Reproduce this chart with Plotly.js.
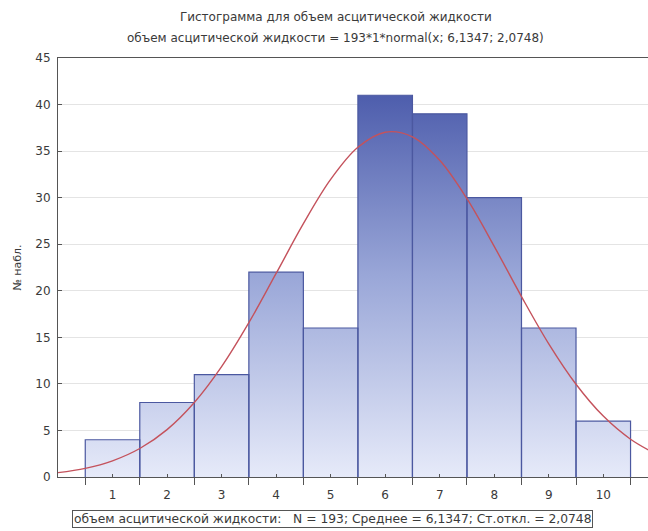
<!DOCTYPE html>
<html>
<head>
<meta charset="utf-8">
<script src="https://cdn.plot.ly/plotly-3.0.1.min.js"></script>
<style>html,body{margin:0;padding:0;background:#fff;}#chart{width:648px;height:531px;}</style>
</head>
<body>
<div id="chart"></div>
<script>
// Histogram data (bin centers and counts)
const binCenters = [1, 2, 3, 4, 5, 6, 7, 8, 9, 10];
const counts = [4, 8, 11, 22, 16, 41, 39, 30, 16, 6];
const xTickLabels = ['1', '2', '3', '4', '5', '6', '7', '8', '9', '10'];
// Fitted normal curve
const curveX = [0, 0.5, 1, 1.5, 2, 2.5, 3, 3.5, 4, 4.5, 5, 5.5, 6, 6.5, 7, 7.5, 8, 8.5, 9, 9.5, 10, 10.5, 11];
const curveY = [0.47, 0.93, 1.74, 3.06, 5.09, 8.0, 11.85, 16.57, 21.86, 27.21, 31.96, 35.41, 37.03, 36.54, 34.02, 29.89, 24.77, 19.38, 14.3, 9.96, 6.54, 4.06, 2.37];
const yTicks = [0, 5, 10, 15, 20, 25, 30, 35, 40, 45];

const titleLine1 = 'Гистограмма для объем асцитической жидкости';
const titleLine2 = 'объем асцитической жидкости = 193*1*normal(x; 6,1347; 2,0748)';
const yTitle = '№ набл.';
const statsText = 'объем асцитической жидкости:   N = 193; Среднее = 6,1347; Ст.откл. = 2,0748';

// Stepped silhouette for the gradient fill, and bar outlines, built from the data
const fx = [], fy = [];
const ox = [], oy = [];
binCenters.forEach((c, i) => {
  const a = c - 0.5, b = c + 0.5, h = counts[i];
  if (i === 0) { fx.push(a); fy.push(0); }
  fx.push(a); fy.push(h);
  fx.push(b); fy.push(h);
  if (i === binCenters.length - 1) { fx.push(b); fy.push(0); }
  ox.push(a, a, b, b, null); oy.push(0, h, h, 0, null);
});

const fam = 'DejaVu Sans, Liberation Sans, sans-serif';
const txt = '#3a3a3a';

const traces = [
  {
    type: 'scatter', mode: 'lines', x: fx, y: fy, fill: 'toself',
    line: {width: 0, color: 'rgba(0,0,0,0)'},
    fillgradient: {type: 'vertical', start: 0, stop: 43,
      colorscale: [[0, '#e6eaf9'], [0.5, '#9aa7d8'], [1, '#4656a8']]},
    hoverinfo: 'skip', showlegend: false
  },
  {
    type: 'scatter', mode: 'lines', x: ox, y: oy, connectgaps: false,
    line: {color: '#4b58a0', width: 1.2},
    showlegend: false
  },
  {
    type: 'scatter', mode: 'lines', x: curveX, y: curveY,
    line: {color: '#c4525c', width: 1.4, shape: 'spline'},
    showlegend: false
  }
];

const layout = {
  width: 648, height: 531,
  margin: {l: 58, r: 0, t: 58, b: 54},
  paper_bgcolor: '#fff', plot_bgcolor: '#fff',
  font: {family: fam, size: 11, color: txt},
  title: {
    text: titleLine1,
    font: {family: fam, size: 12, color: txt},
    x: 0.471, xref: 'paper', xanchor: 'center',
    y: 1 - 17 / 531, yref: 'container', yanchor: 'middle'
  },
  xaxis: {
    range: [0, 10.82], tickmode: 'array', tickvals: binCenters, ticktext: xTickLabels,
    showline: true, linecolor: '#555', linewidth: 1, mirror: true,
    showgrid: false, zeroline: false,
    ticks: 'inside', ticklen: 3, tickcolor: '#555',
    ticklabelstandoff: 7,
    minor: {tick0: 0.5, dtick: 1, ticks: 'outside', ticklen: 7, tickcolor: '#555', showgrid: false},
    tickfont: {family: fam, size: 12, color: txt}
  },
  yaxis: {
    range: [0, 45], tickmode: 'array', tickvals: yTicks,
    showline: true, linecolor: '#555', linewidth: 1,
    showgrid: true, gridcolor: '#e4e4e4', gridwidth: 1, zeroline: false,
    ticks: 'inside', ticklen: 4, tickcolor: '#555',
    ticklabelstandoff: 4,
    tickfont: {family: fam, size: 12, color: txt},
    title: {text: yTitle, font: {family: fam, size: 11, color: txt}, standoff: 11}
  },
  annotations: [
    {
      text: titleLine2, xref: 'paper', yref: 'paper', x: 0.471, y: 1 + 20 / 419,
      xanchor: 'center', yanchor: 'middle', showarrow: false,
      font: {family: fam, size: 12, color: txt}
    },
    {
      text: statsText, xref: 'paper', yref: 'paper', x: 0.465, y: -42 / 419,
      xanchor: 'center', yanchor: 'middle', showarrow: false,
      font: {family: fam, size: 12.3, color: txt},
      bordercolor: '#555', borderwidth: 1, borderpad: 1, bgcolor: '#fff'
    }
  ]
};

Plotly.newPlot('chart', traces, layout, {displayModeBar: false, staticPlot: true});
</script>
</body>
</html>
